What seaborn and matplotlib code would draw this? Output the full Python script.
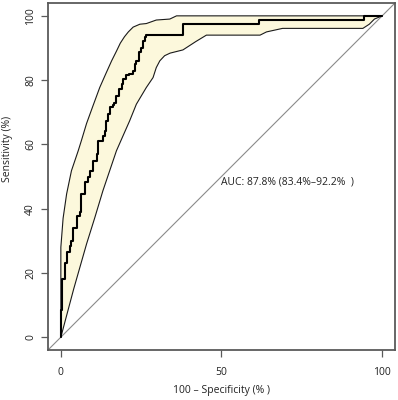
import numpy as np
import pandas as pd
import matplotlib
matplotlib.use('Agg')
import matplotlib.pyplot as plt
import seaborn as sns

# ROC curve (100 - specificity, sensitivity), in %
curve_fpr = [0, 0, 0.4, 1.2, 1.8, 2.8, 3.3, 3.8, 4.9, 5.9, 6.4, 7.5, 8.5, 9.0, 10.0,
             11.1, 11.6, 13.0, 13.7, 14.2, 14.7, 15.2, 16.3, 16.6, 17.3, 18.1, 18.9,
             19.4, 20.4, 21.2, 22.3, 23.0, 23.5, 24.3, 25.1, 25.6, 26.1, 26.6, 37.9,
             61.6, 94.5, 100]
curve_tpr = [0, 8.3, 18.0, 23.0, 26.5, 28.5, 30.0, 34.0, 37.8, 38.9, 44.6, 48.2, 49.7,
             51.8, 54.9, 57.0, 61.1, 62.7, 64.3, 67.4, 69.4, 71.5, 72.3, 73.0, 75.1,
             77.2, 78.8, 80.3, 81.5, 81.9, 82.9, 85.0, 86.0, 88.6, 90.1, 92.2, 93.3,
             94.0, 97.4, 98.7, 100, 100]

# Confidence band of sensitivity
upper_fpr = [0, 0, 0.7, 1.8, 3.3, 5.4, 6.4, 8.0, 10.0, 12.1, 14.0, 15.8, 17.3, 18.5,
             19.8, 21.0, 22.5, 24.6, 26.6, 29.7, 33.9, 36.0, 100]
upper_tpr = [0, 28.0, 37.0, 44.6, 51.8, 58.0, 61.2, 66.5, 72.0, 77.7, 82.0, 86.0, 89.0,
             91.5, 93.5, 95.0, 96.5, 97.4, 97.6, 98.7, 99.0, 100, 100]
lower_fpr = [0, 2.0, 4.0, 6.0, 8.0, 10.6, 13.1, 15.2, 17.3, 19.5, 21.4, 23.5, 26.6,
             28.7, 29.7, 30.8, 32.3, 34.0, 38.0, 42.0, 45.3, 62.0, 64.0, 69.0, 94.0,
             96.0, 97.6, 100]
lower_tpr = [0, 7.5, 15.0, 22.0, 29.0, 37.3, 45.6, 51.8, 58.0, 63.0, 67.3, 72.5, 77.7,
             80.8, 83.9, 86.0, 87.6, 88.4, 89.4, 92.0, 94.0, 94.0, 95.0, 96.1, 96.1,
             97.4, 99.0, 100]

x_ticks = [0, 50, 100]
y_ticks = [0, 20, 40, 60, 80, 100]
auc_label = "AUC: 87.8% (83.4%–92.2%  )"
x_label = "100 – Specificity (% )"
y_label = "Sensitivity (%)"

sns.set_style('white')
plt.rcParams['font.family'] = ['Open Sans', 'DejaVu Sans']

fig = plt.figure(figsize=(3.98, 4.0), dpi=100)
ax = fig.add_axes([48 / 398, 50 / 400, 347 / 398, 347 / 400])

curve = pd.DataFrame({'fpr': curve_fpr, 'tpr': curve_tpr})
upper = pd.DataFrame({'fpr': upper_fpr, 'tpr': upper_tpr})
lower = pd.DataFrame({'fpr': lower_fpr, 'tpr': lower_tpr})

# diagonal (chance line) spanning the plot region
sns.lineplot(x=[-4, 104], y=[-4, 104], estimator=None, sort=False, color='#8a8a8a',
             linewidth=0.8, ax=ax, zorder=1)

# confidence band
ax.fill(np.r_[upper['fpr'].values, lower['fpr'].values[::-1]],
        np.r_[upper['tpr'].values, lower['tpr'].values[::-1]],
        color='#FCF8DC', linewidth=0, zorder=2)
sns.lineplot(data=upper, x='fpr', y='tpr', estimator=None, sort=False, color='#1a1a1a',
             linewidth=0.8, ax=ax, zorder=3)
sns.lineplot(data=lower, x='fpr', y='tpr', estimator=None, sort=False, color='#1a1a1a',
             linewidth=0.8, ax=ax, zorder=3)

# ROC curve
sns.lineplot(data=curve, x='fpr', y='tpr', estimator=None, sort=False, color='black',
             linewidth=1.5, drawstyle='steps-post', ax=ax, zorder=4)

ax.set_xlim(-4, 104)
ax.set_ylim(-4, 104)
ax.set_xticks(x_ticks)
ax.set_yticks(y_ticks)
ax.set_xlabel('')
ax.set_ylabel('')
for s in ax.spines.values():
    s.set_visible(True)
    s.set_color('#5a5a5a')
    s.set_linewidth(1.3)
ax.tick_params(direction='out', length=5, width=0.9, color='#5a5a5a',
               labelsize=7.5, labelcolor='#222222', bottom=True, left=True)
ax.tick_params(axis='x', pad=7)
ax.tick_params(axis='y', pad=3.5, labelrotation=90)
for lbl in ax.get_yticklabels():
    lbl.set_va('center')

ax.text(50, 50, auc_label, ha='left', va='top', fontsize=7.5, color='#222222')

fig.text(8 / 398, 1 - 149 / 400, y_label, rotation=90, ha='center', va='center',
         fontsize=7.5, color='#222222')
fig.text(221.5 / 398, 1 - 390 / 400, x_label, ha='center', va='center',
         fontsize=7.5, color='#222222')

fig.savefig('out.png', dpi=100)
